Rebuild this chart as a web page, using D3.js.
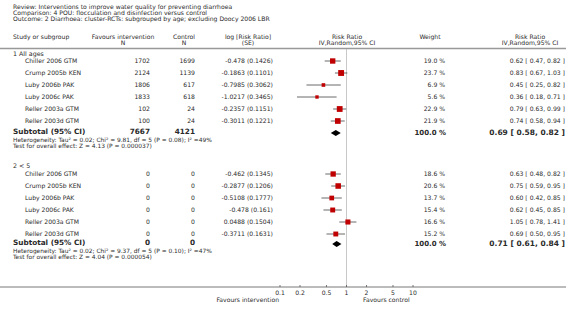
<!DOCTYPE html>
<html><head><meta charset="utf-8">
<script src="https://cdn.jsdelivr.net/npm/d3@7"></script>
<style>
body{margin:0;background:#fff;}
svg text{font-family:"DejaVu Sans",Verdana,sans-serif;fill:#2a2a2a;}
</style></head>
<body><svg id="c" width="566" height="317"></svg>
<script>
const titleLines = ["Review:  Interventions to improve water quality for preventing diarrhoea",
 "Comparison:  4 POU: flocculation and disinfection versus control",
 "Outcome:  2 Diarrhoea: cluster-RCTs: subgrouped by age; excluding Doocy 2006 LBR"];

const groupNames = ["1 All ages", "2 < 5"];
const studies1 = ["Chiller 2006 GTM","Crump 2005b KEN","Luby 2006b PAK","Luby 2006c PAK","Reller 2003a GTM","Reller 2003d GTM"];
const nInt1 = [1702,2124,1806,1833,102,100];
const nCtl1 = [1699,1139,617,618,24,24];
const logrr1 = ["-0.478 (0.1426)","-0.1863 (0.1101)","-0.7985 (0.3062)","-1.0217 (0.3465)","-0.2357 (0.1151)","-0.3011 (0.1221)"];
const weight1 = [19.0,23.7,6.9,5.6,22.9,21.9];
const rr1 = [0.62,0.83,0.45,0.36,0.79,0.74];
const lo1 = [0.47,0.67,0.25,0.18,0.63,0.58];
const hi1 = [0.82,1.03,0.82,0.71,0.99,0.94];
const sub1 = {nI:7667,nC:4121,rr:0.69,lo:0.58,hi:0.82,
  het:"Heterogeneity: Tau\u00b2 = 0.02; Chi\u00b2 = 9.81, df = 5 (P = 0.08); I\u00b2 =49%",
  test:"Test for overall effect: Z = 4.13 (P = 0.000037)"};

const studies2 = ["Chiller 2006 GTM","Crump 2005b KEN","Luby 2006b PAK","Luby 2006c PAK","Reller 2003a GTM","Reller 2003d GTM"];
const nInt2 = [0,0,0,0,0,0];
const nCtl2 = [0,0,0,0,0,0];
const logrr2 = ["-0.462 (0.1345)","-0.2877 (0.1206)","-0.5108 (0.1777)","-0.478 (0.161)","0.0488 (0.1504)","-0.3711 (0.1631)"];
const weight2 = [18.6,20.6,13.7,15.4,16.6,15.2];
const rr2 = [0.63,0.75,0.60,0.62,1.05,0.69];
const lo2 = [0.48,0.59,0.42,0.45,0.78,0.50];
const hi2 = [0.82,0.95,0.85,0.85,1.41,0.95];
const sub2 = {nI:0,nC:0,rr:0.71,lo:0.61,hi:0.84,
  het:"Heterogeneity: Tau\u00b2 = 0.02; Chi\u00b2 = 9.37, df = 5 (P = 0.10); I\u00b2 =47%",
  test:"Test for overall effect: Z = 4.04 (P = 0.000054)"};

const tickVals = [0.1,0.2,0.5,1,2,5,10];
const tickLabels = ["0.1","0.2","0.5","1","2","5","10"];

const svg = d3.select("#c");
const fs = 6.1;
const x = d3.scaleLog().domain([0.1,10]).range([280,413]);
const fmt2 = d3.format(".2f");
const txt = (s, px, py, anchor="start", size=fs, weight="normal") =>
  svg.append("text").attr("x",px).attr("y",py).attr("text-anchor",anchor)
   .attr("dominant-baseline","middle").style("font-size",size+"px").style("font-weight",weight).text(s);

titleLines.forEach((t,i)=>txt(t,13,7+6*i));
// headers
txt("Study or subgroup",13,37);
txt("Favours intervention",123,37,"middle"); txt("N",123,43,"middle");
txt("Control",184,37,"middle"); txt("N",184,43,"middle");
txt("log [Risk Ratio]",248,37,"middle"); txt("(SE)",248,43,"middle");
txt("Risk Ratio",347,37,"middle"); txt("IV,Random,95% CI",347,43,"middle");
txt("Weight",430,37,"middle");
txt("Risk Ratio",530,37,"middle"); txt("IV,Random,95% CI",530,43,"middle");
svg.append("line").attr("x1",0).attr("x2",566).attr("y1",48.5).attr("y2",48.5).attr("stroke","#999").attr("stroke-width",1.5);

// reference line
svg.append("line").attr("x1",x(1)).attr("x2",x(1)).attr("y1",49).attr("y2",287).attr("stroke","#bbb").attr("stroke-width",0.8);

function group(gname, gy, rowY, studies, nI, nC, lr, w, rr, lo, hi, sub, subY){
  txt(gname,13,gy,"start",fs+0.2);
  studies.forEach((s,i)=>{
    const y = rowY + 12*i;
    txt(s,25,y);
    txt(String(nI[i]),150,y,"end");
    txt(String(nC[i]),195,y,"end");
    txt(lr[i],273,y,"end");
    txt(w[i].toFixed(1)+" %",445,y,"end");
    txt(fmt2(rr[i])+" [ "+fmt2(lo[i])+", "+fmt2(hi[i])+" ]",565,y,"end");
    svg.append("line").attr("x1",x(lo[i])).attr("x2",x(hi[i])).attr("y1",y).attr("y2",y)
      .attr("stroke","#444").attr("stroke-width",0.8);
    const sz = 1.0*Math.sqrt(w[i])+1;
    svg.append("rect").attr("x",x(rr[i])-sz/2).attr("y",y-sz/2).attr("width",sz).attr("height",sz).attr("fill","#c00000");
  });
  txt("Subtotal (95% CI)",13,subY-0.5,"start",7.3,"bold");
  txt(String(sub.nI),150,subY-0.5,"end",7.3,"bold");
  txt(String(sub.nC),195,subY-0.5,"end",7.3,"bold");
  txt("100.0 %",446,subY,"end",7,"bold");
  txt(fmt2(sub.rr)+" [ "+fmt2(sub.lo)+", "+fmt2(sub.hi)+" ]",565,subY,"end",7.5,"bold");
  const d = [[x(sub.lo),subY],[x(sub.rr),subY-3],[x(sub.hi),subY],[x(sub.rr),subY+3]];
  svg.append("polygon").attr("points",d.map(p=>p.join(",")).join(" ")).attr("fill","#000");
  txt(sub.het,13,subY+7,"start",5.9);
  txt(sub.test,13,subY+13,"start",5.9);
}
group(groupNames[0],54,61,studies1,nInt1,nCtl1,logrr1,weight1,rr1,lo1,hi1,sub1,133);
group(groupNames[1],166,174,studies2,nInt2,nCtl2,logrr2,weight2,rr2,lo2,hi2,sub2,244);

// axis
svg.append("line").attr("x1",0).attr("x2",566).attr("y1",287).attr("y2",287).attr("stroke","#555").attr("stroke-width",0.8);
const ax = svg.append("g");
tickVals.forEach((v,i)=>{
  ax.append("line").attr("x1",x(v)).attr("x2",x(v)).attr("y1",285).attr("y2",287).attr("stroke","#555").attr("stroke-width",0.8);
  txt(tickLabels[i],x(v),293,"middle");
});
txt("Favours intervention",279,300,"end");
txt("Favours control",363,300,"start");
</script></body></html>
